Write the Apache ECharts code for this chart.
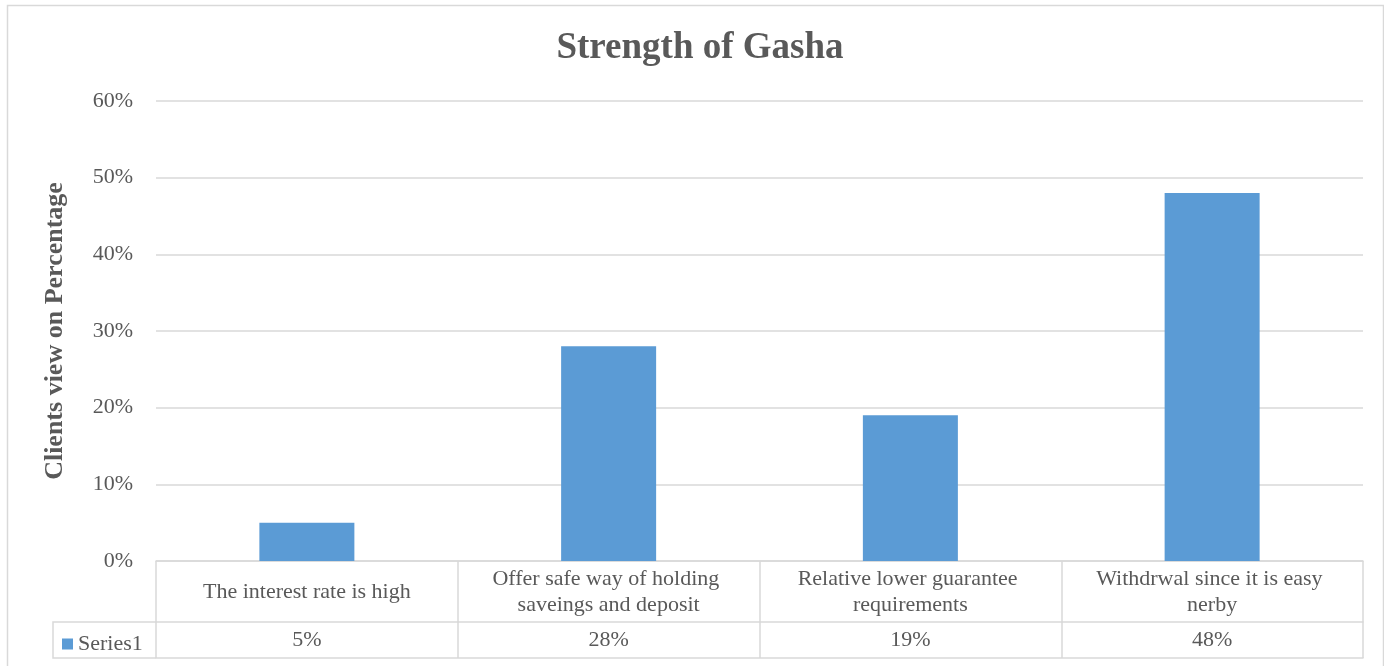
<!DOCTYPE html>
<html>
<head>
<meta charset="utf-8">
<title>Strength of Gasha</title>
<script src="https://cdn.jsdelivr.net/npm/echarts@6/dist/echarts.min.js"></script>
<style>
  html, body { margin: 0; padding: 0; background: #fff; }
  #main { width: 1384px; height: 666px; }
</style>
</head>
<body>
<div id="main"></div>
<script>
// 数据
var categories = [
  'The interest rate is high',
  'Offer safe way of holding saveings and deposit',
  'Relative lower guarantee requirements',
  'Withdrwal since it is easy nerby'
];
var values = [5, 28, 19, 48];
var seriesName = 'Series1';
var yTicks = [0, 10, 20, 30, 40, 50, 60];

(function () {
  var myChart = echarts.init(document.getElementById('main'))
  var font = '"Liberation Serif", "Times New Roman", serif'
  var grey = '#595959'
  var line = '#d9d9d9'
  // 表格的行高
  var row1 = 61
  var row2 = 36

  var option = {
    animation: false,
    textStyle: { fontFamily: font },
    title: {
      text: 'Strength of Gasha',
      left: 695,
      textAlign: 'center',
      top: 25,
      textStyle: { fontFamily: font, fontSize: 37, fontWeight: 'bold', color: grey }
    },
    legend: {
      data: [seriesName],
      left: 57,
      top: 628,
      icon: 'rect',
      itemWidth: 11,
      itemHeight: 11,
      itemGap: 5,
      textStyle: { fontFamily: font, fontSize: 22, color: grey }
    },
    grid: { left: 156, right: 21, top: 101, bottom: 105 },
    xAxis: [
      {
        type: 'category',
        data: categories,
        position: 'bottom',
        axisLine: { lineStyle: { color: line, width: 1.5 } },
        axisTick: { show: true, length: row1, lineStyle: { color: line, width: 1.5 } },
        axisLabel: {
          interval: 0,
          margin: row1 / 2 + 1,
          verticalAlign: 'middle',
          width: 272,
          overflow: 'break',
          lineHeight: 26,
          fontFamily: font,
          fontSize: 22,
          color: grey
        }
      },
      {
        // 数据表的数值行
        type: 'category',
        data: categories,
        position: 'bottom',
        offset: row1,
        axisLine: { show: true, lineStyle: { color: line, width: 1.5 } },
        axisTick: { show: true, length: row2, lineStyle: { color: line, width: 1.5 } },
        axisLabel: {
          interval: 0,
          margin: row2 / 2,
          verticalAlign: 'middle',
          fontFamily: font,
          fontSize: 22,
          color: grey,
          formatter: function (v, i) { return values[i] + '%' }
        }
      },
      {
        type: 'category',
        data: categories,
        position: 'bottom',
        offset: row1 + row2,
        axisLine: { show: true, lineStyle: { color: line, width: 1.5 } },
        axisTick: { show: false },
        axisLabel: { show: false }
      }
    ],
    yAxis: {
      type: 'value',
      min: yTicks[0],
      max: yTicks[yTicks.length - 1],
      interval: 10,
      name: 'Clients view on Percentage',
      nameLocation: 'middle',
      nameRotate: 90,
      nameGap: 88,
      nameTextStyle: { fontFamily: font, fontSize: 26, fontWeight: 'bold', color: grey },
      axisLine: { show: false },
      axisTick: { show: false },
      axisLabel: { margin: 23, fontFamily: font, fontSize: 22, color: grey, formatter: '{value}%' },
      splitLine: { lineStyle: { color: line, width: 1.5 } }
    },
    series: [
      {
        name: seriesName,
        type: 'bar',
        data: values,
        barWidth: 95,
        itemStyle: { color: '#5b9bd5' }
      }
    ],
    graphic: [
      // 外边框
      {
        type: 'rect',
        shape: { x: 7.5, y: 5.5, width: 1376, height: 680 },
        style: { fill: 'none', stroke: line, lineWidth: 1.5 },
        silent: true
      },
      // 图例单元格
      {
        type: 'polyline',
        shape: { points: [[156, 622], [53, 622], [53, 658], [156, 658]] },
        style: { fill: 'none', stroke: line, lineWidth: 1.5 },
        silent: true
      }
    ]
  }
  myChart.setOption(option)
  window.addEventListener('resize', function () {
    myChart.resize()
  })
})();
</script>
</body>
</html>
